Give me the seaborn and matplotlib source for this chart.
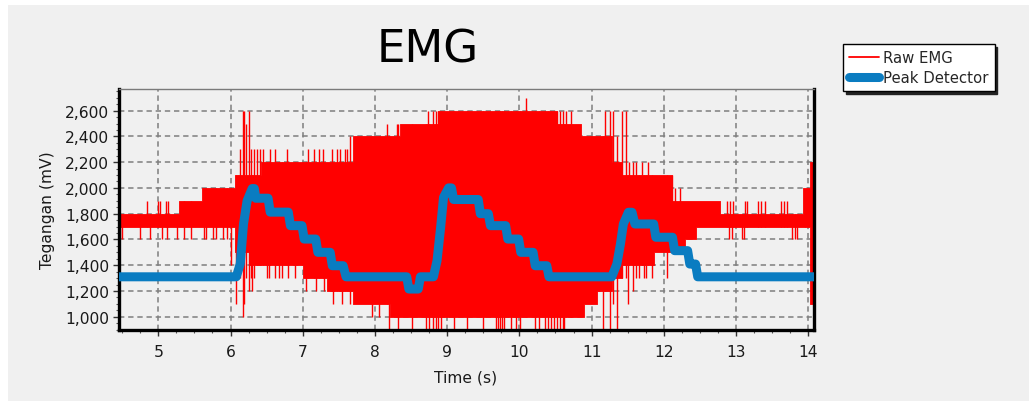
import matplotlib
matplotlib.use("Agg")
import matplotlib.pyplot as plt
from matplotlib.lines import Line2D
from matplotlib.patches import Rectangle
from matplotlib.ticker import FuncFormatter, MultipleLocator
import seaborn as sns
import numpy as np

# ---------------- data ----------------
# Raw EMG: piecewise-constant core envelope (start time, upper, lower)
core_t = [4.456, 5.28, 5.60, 6.06, 6.25, 6.42, 7.01, 7.34, 7.70, 8.21, 8.35, 8.88,
          10.52, 10.85, 10.89, 11.07, 11.28, 11.42, 11.86, 12.11, 12.30, 12.44,
          12.78, 13.93, 14.03, 14.08]
core_hi = [1800, 1900, 2000, 2100, 2100, 2200, 2200, 2200, 2400, 2400, 2500, 2600,
           2500, 2400, 2400, 2400, 2200, 2100, 2100, 1900, 1900, 1900,
           1800, 2000, 2200, 2200]
core_lo = [1700, 1700, 1700, 1500, 1400, 1400, 1300, 1200, 1100, 1000, 1000, 1000,
           1000, 1000, 1100, 1200, 1300, 1400, 1500, 1500, 1600, 1700,
           1700, 1700, 1100, 1100]

# Raw EMG: individual spikes beyond the core (time, low, high)
spike_t = [4.47, 4.50, 4.75, 4.84, 4.89, 4.99, 5.03, 5.05, 5.10, 5.12, 5.14, 5.26,
           5.35, 5.45, 5.63, 5.66, 5.76, 5.80, 5.90, 5.95, 6.00,
           6.07, 6.10, 6.13, 6.17, 6.19, 6.21, 6.25, 6.28, 6.30, 6.33, 6.37, 6.41,
           6.45, 6.50, 6.53, 6.55, 6.62, 6.67, 6.72, 6.78, 6.80, 6.90,
           7.05, 7.08, 7.15, 7.18, 7.22, 7.28, 7.30, 7.40, 7.42, 7.47, 7.52, 7.55,
           7.58, 7.62, 7.66, 7.96, 8.05, 8.17, 8.20, 8.31, 8.32, 8.52,
           8.71, 8.74, 8.75, 8.80, 8.84, 8.88, 8.91,
           9.09, 9.28, 9.50, 9.67, 9.70, 9.73, 9.76, 9.79, 9.89, 9.95, 10.01,
           10.09, 10.21, 10.27, 10.36, 10.40, 10.44, 10.48, 10.52, 10.56, 10.60,
           10.62, 10.65, 10.72, 11.16, 11.19, 11.25, 11.26, 11.30, 11.35, 11.42,
           11.47, 11.50, 11.52, 11.58, 11.62, 11.66, 11.70, 11.73, 11.75, 11.78,
           11.84, 12.05, 12.12, 12.15, 12.22,
           12.88, 12.90, 12.92, 12.95, 12.96, 13.08, 13.11, 13.12, 13.15, 13.30,
           13.35, 13.40, 13.62, 13.66, 13.70, 13.78, 13.82, 13.85, 13.95]
spike_lo = [1600, 1600, 1600, 1700, 1600, 1700, 1700, 1600, 1700, 1600, 1700, 1600,
            1600, 1600, 1600, 1600, 1600, 1600, 1600, 1600, 1400,
            1100, 1300, 1300, 1000, 1100, 1300, 1200, 1300, 1200, 1300, 1400, 1400,
            1400, 1300, 1300, 1400, 1300, 1300, 1300, 1400, 1300, 1300,
            1200, 1300, 1300, 1200, 1300, 1300, 1200, 1200, 1100, 1200, 1200, 1100,
            1200, 1200, 1100, 1000, 1000, 1100, 900, 1000, 900, 900,
            900, 1000, 900, 900, 900, 900, 900,
            900, 900, 900, 900, 900, 900, 900, 900, 900, 900, 900,
            1000, 900, 900, 900, 900, 900, 900, 900, 900, 900,
            900, 1000, 1000, 900, 1200, 900, 1200, 1100, 900, 1300,
            1300, 1100, 1400, 1200, 1300, 1300, 1400, 1300, 1300, 1400,
            1300, 1300, 1500, 1500, 1500,
            1700, 1600, 1700, 1600, 1700, 1600, 1600, 1700, 1700, 1700,
            1700, 1700, 1700, 1700, 1700, 1600, 1600, 1600, 1700]
spike_hi = [1800, 1800, 1800, 1900, 1800, 1900, 1900, 1800, 1900, 1800, 1900, 1800,
            1900, 1900, 2000, 2000, 2000, 2000, 2000, 2000, 2000,
            2100, 2100, 2300, 2600, 2600, 2500, 2600, 2300, 2100, 2300, 2300, 2300,
            2300, 2200, 2200, 2300, 2300, 2200, 2200, 2300, 2200, 2200,
            2200, 2300, 2300, 2200, 2300, 2300, 2200, 2300, 2200, 2300, 2300, 2200,
            2300, 2300, 2400, 2400, 2400, 2500, 2400, 2500, 2500, 2500,
            2500, 2600, 2500, 2600, 2600, 2600, 2600,
            2600, 2600, 2600, 2600, 2600, 2600, 2600, 2600, 2600, 2600, 2600,
            2700, 2600, 2600, 2600, 2600, 2600, 2600, 2600, 2600, 2600,
            2500, 2600, 2600, 2400, 2600, 2400, 2600, 2600, 2400, 2600,
            2600, 2100, 2200, 2200, 2200, 2100, 2200, 2100, 2100, 2200,
            2100, 2100, 2100, 2000, 2000,
            1900, 1800, 1900, 1800, 1900, 1800, 1800, 1900, 1900, 1900,
            1900, 1900, 1900, 1900, 1900, 1800, 1800, 1800, 1900]

# Peak detector output (time, mV)
peak_t = [4.456, 6.08, 6.135, 6.18, 6.23, 6.30, 6.33, 6.35, 6.52, 6.55, 6.80, 6.83,
          6.99, 7.02, 7.18, 7.21, 7.38, 7.41, 7.56, 7.60, 8.44, 8.47, 8.60, 8.63,
          8.81, 8.86, 8.91, 8.95, 9.02, 9.06, 9.09, 9.43, 9.46, 9.57, 9.60, 9.81,
          9.84, 9.99, 10.02, 10.19, 10.22, 10.38, 10.41, 11.28, 11.35, 11.40, 11.44,
          11.51, 11.56, 11.60, 11.86, 11.89, 12.12, 12.15, 12.33, 12.36, 12.44,
          12.47, 14.08]
peak_v = [1310, 1310, 1410, 1720, 1900, 1995, 1995, 1920, 1920, 1812, 1812, 1707,
          1707, 1603, 1603, 1500, 1500, 1396, 1396, 1310, 1310, 1215, 1215, 1310,
          1310, 1435, 1694, 1927, 2000, 2000, 1910, 1910, 1800, 1800, 1707, 1707,
          1603, 1603, 1500, 1500, 1396, 1396, 1310, 1310, 1409, 1565, 1720,
          1811, 1811, 1720, 1720, 1617, 1617, 1513, 1513, 1409, 1409,
          1310, 1310]

x_ticks = [5, 6, 7, 8, 9, 10, 11, 12, 13, 14]
y_ticks = [1000, 1200, 1400, 1600, 1800, 2000, 2200, 2400, 2600]

# ---------------- style ----------------
sns.set_theme(style="ticks")
plt.rcParams["font.family"] = ["DejaVu Sans"]
BG = "#F0F0F0"
RED = "#FF0000"
BLUE = "#0A7CC1"

fig = plt.figure(figsize=(10.29, 4.02), dpi=100)
fig.patch.set_facecolor("white")
fig.add_artist(Rectangle((8 / 1029, 0), 1 - 8 / 1029, 1 - 6 / 402,
                         transform=fig.transFigure, facecolor=BG,
                         edgecolor="none", zorder=-10))

ax = fig.add_axes([119 / 1029, 71 / 402, 695 / 1029, 241 / 402])
ax.set_facecolor(BG)

# raw EMG
ax.fill_between(core_t, core_lo, core_hi, step="post", color=RED,
                linewidth=0.6, edgecolor=RED, zorder=2)
ax.vlines(spike_t, spike_lo, spike_hi, color=RED, linewidth=1.0, zorder=2)

# peak detector
sns.lineplot(x=peak_t, y=peak_v, ax=ax, color=BLUE, linewidth=6.5,
             sort=False, estimator=None, solid_capstyle="round",
             solid_joinstyle="round", zorder=3, legend=False)

ax.set_xlim(4.456, 14.08)
ax.set_ylim(897, 2768)
ax.set_xticks(x_ticks)
ax.set_xticklabels([str(v) for v in x_ticks])
ax.set_yticks(y_ticks)
ax.yaxis.set_major_formatter(FuncFormatter(lambda v, p: f"{int(v):,}"))
ax.xaxis.set_minor_locator(MultipleLocator(0.25))
ax.yaxis.set_minor_locator(MultipleLocator(50))

ax.grid(True, which="major", color="#7E7E7E", linestyle=(0, (3.5, 2.5)),
        linewidth=1.1)
ax.set_axisbelow(True)

ax.tick_params(axis="both", which="major", direction="out", length=4,
               width=1, color="#333333", labelsize=11.2, labelcolor="#1a1a1a")
ax.tick_params(axis="x", which="major", pad=6)
ax.tick_params(axis="y", which="major", pad=3.0)
ax.tick_params(axis="both", which="minor", direction="out", length=2,
               width=0.8, color="#555555")

for side in ["left", "bottom", "right"]:
    ax.spines[side].set_color("black")
    ax.spines[side].set_linewidth(2.4)
ax.spines["top"].set_color("#7a7a7a")
ax.spines["top"].set_linewidth(1.0)

ax.set_xlabel("Time (s)", fontsize=11.2, color="#1a1a1a")
ax.xaxis.set_label_coords(0.498, -0.165)
ax.set_ylabel("Tegangan (mV)", fontsize=11.2, color="#1a1a1a")
ax.yaxis.set_label_coords(-0.092, 0.50)

fig.text(428 / 1029, 1 - 50 / 402, "EMG", ha="center", va="center",
         fontsize=32.5, color="black")

handles = [Line2D([0], [0], color=RED, linewidth=1.3),
           Line2D([0], [0], color=BLUE, linewidth=6.5, solid_capstyle="round")]
leg = fig.legend(handles, ["Raw EMG", "Peak Detector"], loc="upper left",
                 bbox_to_anchor=(843 / 1029, 1 - 45 / 402),
                 bbox_transform=fig.transFigure, borderaxespad=0,
                 fontsize=10.7, frameon=True, fancybox=False, framealpha=1,
                 edgecolor="black", facecolor="white", handlelength=2.0,
                 handletextpad=0.3, labelspacing=0.35, borderpad=0.4,
                 shadow={"color": "#222222", "alpha": 1.0})
leg.get_frame().set_linewidth(1.0)

fig.savefig("out.png", dpi=100, facecolor=fig.get_facecolor())
